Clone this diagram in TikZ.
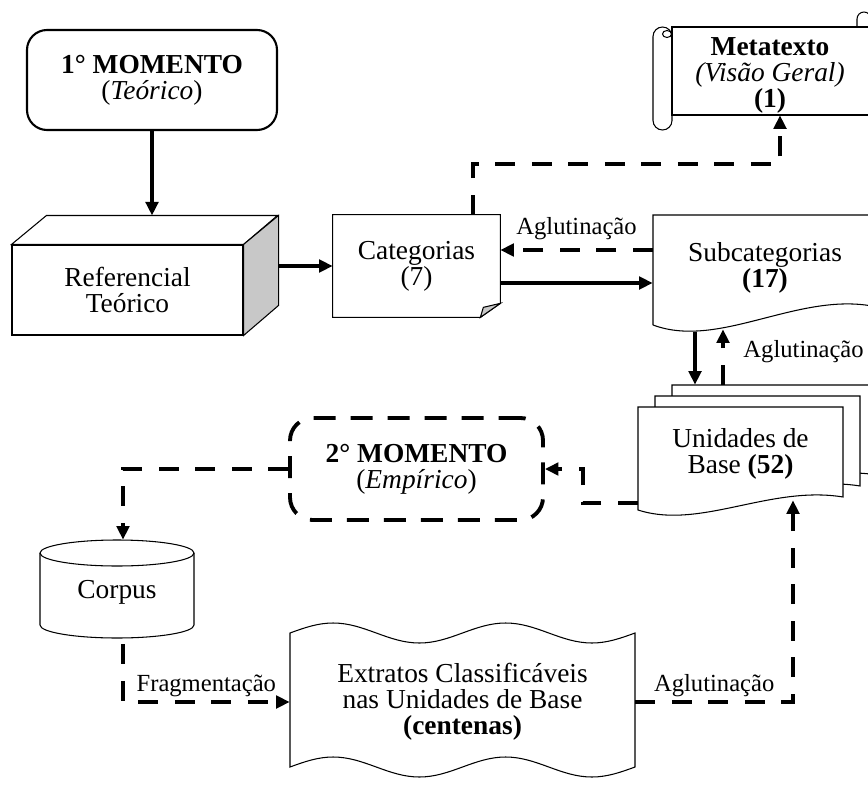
\documentclass[tikz,border=0pt]{standalone}
\usepackage{fontspec}
\setmainfont{Liberation Serif}
\usepackage{tikz}
\usetikzlibrary{arrows.meta,calc}
\definecolor{FoldGray}{HTML}{C8C8C8}
\tikzset{
  txtnode/.style={
    align=center,inner sep=0pt,
    font=\fontsize{15.6}{14.8}\selectfont
  },
  lblnode/.style={
    font=\fontsize{14}{16}\selectfont,inner sep=2pt
  },
  outline/.style={draw=black,line width=0.6pt},
  sheet/.style={draw=black,line width=0.6pt,fill=white},
  solidarr/.style={
    line width=2pt,-{Triangle[length=0.27cm,width=0.25cm]}
  },
  dasharr/.style={
    line width=2.2pt,dash pattern=on 0.4cm off 0.33cm,
    -{Triangle[length=0.27cm,width=0.25cm]}
  },
}

\begin{document}
\begin{tikzpicture}
  \useasboundingbox (0,0) rectangle (17.36,15.78);
  \clip (0,0) rectangle (17.36,15.78);
  \draw[sheet,shift={(0.68,0.44)}] (12.76,5.58) -- (12.76,7.64) -- (16.86,7.64) -- (16.86,5.84) .. controls (15.4,6.08) and (14.0,5.18) .. (12.76,5.58) -- cycle;
  \draw[sheet,shift={(0.34,0.22)}] (12.76,5.58) -- (12.76,7.64) -- (16.86,7.64) -- (16.86,5.84) .. controls (15.4,6.08) and (14.0,5.18) .. (12.76,5.58) -- cycle;
  \draw[sheet] (12.76,5.58) -- (12.76,7.64) -- (16.86,7.64) -- (16.86,5.84) .. controls (15.4,6.08) and (14.0,5.18) .. (12.76,5.58) -- cycle;
  \node[txtnode,minimum width=4.1cm,minimum height=1.86cm] (uni) at (14.81,6.71) {Unidades de\\Base \textbf{(52)}};
  \node[txtnode,draw,line width=1.2pt,rounded corners=0.4cm,minimum width=5cm,minimum height=2cm] (mom1) at (3.04,14.18) {\textbf{1° MOMENTO}\\(\textit{Teórico})};
  \node[txtnode,draw,line width=0.6pt,fill=white,minimum width=4.62cm,minimum height=1.8cm] (cube) at (2.55,9.98) {Referencial\\Teórico};
  \draw[sheet] (cube.north west) -- ++(0.7,0.58) -- ++(4.62,0) -- (cube.north east) -- cycle;
  \draw[sheet,fill=FoldGray] (cube.north east) -- ++(0.7,0.58) -- ++(0,-1.8) -- (cube.south east) -- cycle;
  \coordinate (cubetop) at ($(cube.north)+(0,0.58)$);
  \coordinate (cubeside) at ($(cube.east)+(0.7,0)$);
  \node[txtnode,minimum width=3.34cm,minimum height=2.04cm] (cat) at (8.33,10.46) {Categorias\\(7)};
  \draw[outline] (cat.north west) -- (cat.north east) -- ([yshift=0.28cm]cat.south east) -- ([xshift=-0.4cm]cat.south east) -- (cat.south west) -- cycle;
  \draw[outline,fill=FoldGray] ([yshift=0.28cm]cat.south east) -- ([xshift=-0.4cm]cat.south east) -- ([xshift=-0.34cm,yshift=0.2cm]cat.south east) -- cycle;
  \node[txtnode,minimum width=4.48cm,minimum height=2.1cm] (sub) at (15.30,10.43) {Subcategorias\\\textbf{(17)}};
  \draw[outline] (13.06,9.28) -- (13.06,11.48) -- (17.54,11.48) -- (17.54,9.64) .. controls (16.0,9.98) and (14.4,8.78) .. (13.06,9.28);
  \node[txtnode,minimum width=3.92cm,minimum height=1.6cm] (meta) at (15.4,14.28) {\textbf{Metatexto}\\\textit{(Visão Geral)}\\\textbf{(1)}};
  \draw[outline] (13.44,15.24) rectangle (17.6,13.48);
  \draw[outline,rounded corners=0.19cm] (13.06,13.18) rectangle (13.44,15.24);
  \draw[outline] (13.34,15.1) ellipse [x radius=0.09,y radius=0.07];
  \draw[outline] (17.14,15.24) -- (17.14,15.4) arc[start angle=180,end angle=0,radius=0.14];
  \node[txtnode,draw,line width=2.2pt,dash pattern=on 0.44cm off 0.3cm,rounded corners=0.45cm,minimum width=5.06cm,minimum height=2.04cm] (mom2) at (8.33,6.40) {\textbf{2° MOMENTO}\\(\textit{Empírico})};
  \node[txtnode,minimum width=3.08cm,minimum height=2.08cm] (corpus) at (2.34,3.94) {Corpus};
  \draw[outline] (2.34,4.72) ellipse [x radius=1.54,y radius=0.26];
  \draw[outline] (0.8,4.72) -- (0.8,3.28) arc[start angle=180,end angle=360,x radius=1.54,y radius=0.26] -- (3.88,4.72);
  \node[txtnode,minimum width=6.9cm,minimum height=2.5cm] (extr) at (9.25,1.74) {Extratos Classificáveis\\nas Unidades de Base\\\textbf{(centenas)}};
  \draw[outline] (5.8,3.12) sin (6.6625,3.32) cos (7.525,3.12) sin (8.3875,2.92) cos (9.25,3.12) sin (10.1125,3.32) cos (10.975,3.12) sin (11.8375,2.92) cos (12.7,3.12) -- (12.7,0.44) sin (11.8375,0.24) cos (10.975,0.44) sin (10.1125,0.64) cos (9.25,0.44) sin (8.3875,0.24) cos (7.525,0.44) sin (6.6625,0.64) cos (5.8,0.44) -- cycle;
  \draw[solidarr] (mom1.south) -- (mom1.south |- cubetop);
  \draw[solidarr] (cat.west -| cubeside) -- (cat.west);
  \draw[solidarr] ([yshift=-0.34cm]cat.east) -- ([yshift=-0.34cm]cat.east -| sub.west);
  \draw[dasharr] ([yshift=0.32cm]cat.east -| sub.west) -- ([yshift=0.32cm]cat.east) node[lblnode,midway,above=0.1cm] {Aglutinação};
  \draw[dasharr] ([xshift=-0.54cm]cat.north east) -- ++(0,1.02) -| ([xshift=0.2cm]meta.south);
  \draw[solidarr] ($(uni.north |- sub.south)+(-0.91,-0.24)$) -- ($(uni.north)+(-0.91,0.44)$);
  \draw[dasharr] ($(uni.north)+(-0.35,0.44)$) -- ($(uni.north |- sub.south)+(-0.35,-0.18)$) node[lblnode,pos=0.6,right=0.3cm] {Aglutinação};
  \draw[dasharr] ([yshift=-0.99cm]uni.west) -- ++(-1.1,0) |- (mom2.east);
  \draw[dasharr] (mom2.west) -| ([xshift=0.12cm]corpus.north);
  \draw[dasharr] ([xshift=0.12cm]corpus.south) |- (extr.west) node[lblnode,pos=0.75,above] {Fragmentação};
  \draw[dasharr] (extr.east) -| ([xshift=1.05cm]uni.south) node[lblnode,pos=0.25,above] {Aglutinação};
\end{tikzpicture}
\end{document}
